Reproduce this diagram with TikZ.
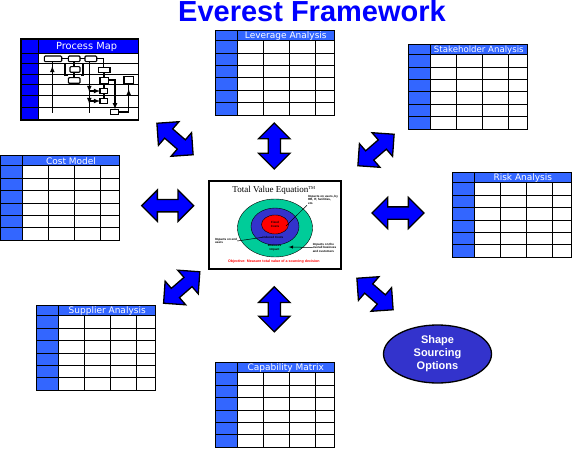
\documentclass[tikz,border=0pt]{standalone}
\usepackage{fontspec}
\setmainfont{Liberation Sans}
\newfontfamily\hdrfont{DejaVu Sans}
\newfontfamily\tvefont{Liberation Serif}
\usepackage{tikz}
\usetikzlibrary{shapes.arrows}
\usetikzlibrary{shapes.geometric}

\definecolor{tblblue}{HTML}{3366FF}
\definecolor{pureblue}{HTML}{0000FF}
\definecolor{ovalblue}{HTML}{3333CC}
\definecolor{tealgreen}{HTML}{00CC99}

\begin{document}
\begin{tikzpicture}[
            x=1pt, y=-1pt,
            grid line/.style={line width=1pt},
            pm line/.style={line width=1.1pt},
            head text/.style={text=white, font=\hdrfont\fontsize{9}{9}\selectfont, inner sep=0pt},
            dbl arrow/.style={double arrow, draw=black, fill=pureblue, line width=1.3pt, inner xsep=0pt, inner ysep=5.5pt,
                minimum width=30pt, double arrow head extend=9.5pt, minimum height=48pt},
            tiny text/.style={font=\bfseries\fontsize{3}{3.5}\selectfont, align=left, inner sep=0pt},
            ]
            \useasboundingbox (0,0) rectangle (572,449);

            \def\tbl#1#2#3#4{
                \begin{scope}[shift={(#1,#2)}]
                    \fill[white] (0,0) rectangle (119,85);
                    \fill[tblblue] (0,0) rectangle (22,85);
                    \fill[tblblue] (0,0) rectangle (119,10.5);
                    \draw[grid line] (22,0) -- (22,85);
                    \draw[grid line] (48,10.5) -- (48,85) (74,10.5) -- (74,85) (100,10.5) -- (100,85);
                    \draw[grid line] (0,10.5) -- (119,10.5) (0,22.9) -- (119,22.9) (0,35.3) -- (119,35.3);
                    \draw[grid line] (0,47.7) -- (119,47.7) (0,60.1) -- (119,60.1) (0,72.5) -- (119,72.5);
                    \draw[grid line] (0,0) rectangle (119,85);
                    \node[head text] (#3) at (70.5,5.5) {#4};
                \end{scope}
            }

            \node[font=\bfseries\fontsize{29}{30}\selectfont, text=pureblue, anchor=base, inner sep=0pt] (title) at (312,21.7) {Everest Framework};

            \tbl{215.3}{30.3}{lev}{Leverage Analysis}
            \tbl{408.3}{44.3}{stake}{\fontsize{8.6}{9}\selectfont Stakeholder Analysis}
            \tbl{0.5}{155.3}{cost}{Cost Model}
            \tbl{452.3}{172.3}{risk}{Risk Analysis}
            \tbl{36.7}{305.3}{supp}{Supplier Analysis}
            \tbl{215.3}{362.3}{cap}{Capability Matrix}

            \fill[white] (21,39) rectangle (138.3,120);
            \fill[pureblue] (21,39) rectangle (38.3,120);
            \fill[pureblue] (21,39) rectangle (138.3,54);
            \draw[grid line] (38.3,39) -- (38.3,120);
            \draw[grid line] (21,54) -- (138.3,54) (21,64) -- (138.3,64) (21,74.3) -- (138.3,74.3);
            \draw[grid line] (21,85) -- (138.3,85) (21,96) -- (138.3,96) (21,107.3) -- (138.3,107.3);
            \draw[line width=1.3pt] (21,39) rectangle (138.3,120);
            \node[head text, font=\hdrfont\fontsize{9.8}{10}\selectfont] (pmap) at (86.5,46.5) {Process Map};

            \draw[pm line, fill=white, rounded corners=1pt] (44.3,56) rectangle (61.7,61.7);
            \draw[pm line, fill=white, rounded corners=1pt] (68.3,56) rectangle (80,61.7);
            \draw[pm line, fill=white, rounded corners=1pt] (85,56) rectangle (96.7,61.7);
            \draw[pm line, fill=white, rounded corners=1pt] (70,66.7) rectangle (80,72.3);
            \draw[pm line, fill=white, rounded corners=1pt] (68.3,77.7) rectangle (80,83.3);
            \draw[pm line, fill=white] (98.3,67.7) rectangle (110,72.7);
            \draw[pm line, fill=white] (100,77.7) rectangle (108.3,83.3);
            \draw[pm line, fill=white] (124,76.7) rectangle (133.3,83.3);
            \draw[pm line, fill=white] (100,88.3) rectangle (107.3,93.3);
            \draw[pm line, fill=white] (100,98.3) rectangle (107.3,103.3);
            \draw[pm line, fill=white] (110.7,109.3) rectangle (118.3,114.3);
            \draw[pm line] (61.7,58.5) -- (68.3,58.5) (80,58.5) -- (85,58.5);
            \draw[pm line] (96.7,58.5) -- (103.3,58.5) -- (103.3,67.7);
            \draw[pm line] (74,61.7) -- (74,66.7) (74,72.3) -- (74,77.7);
            \draw[pm line] (68,63.5) -- (65,63.5) -- (65,75) -- (68,75);
            \draw[pm line] (80.5,63.5) -- (83,63.5) -- (83,75) -- (80.5,75);
            \draw[pm line] (104,72.7) -- (104,77.7) (104,83.3) -- (104,88.3) (104,93.3) -- (104,98.3);
            \draw[pm line] (52.3,61.7) -- (52.3,112.7);
            \draw[pm line, -latex] (52.3,76) -- (52.3,66);
            \draw[pm line] (89.3,61.7) -- (89.3,113);
            \draw[pm line, -latex] (89.3,84) -- (89.3,92);
            \draw[pm line, -latex] (89.3,95) -- (89.3,104);
            \draw[pm line, -latex] (89.3,91) -- (100,91);
            \draw[pm line, -latex] (89.3,101) -- (100,101);
            \draw[pm line, -latex] (108.3,80) -- (115,80) -- (115,109.3);
            \draw[pm line] (118.3,112) -- (128.7,112) -- (128.7,83.3);
            \draw[pm line, -latex] (128.7,100) -- (128.7,89);

            \node[draw, line width=1.8pt, fill=white, minimum width=132pt, minimum height=88pt, inner sep=0pt] (tve) at (274.7,225.3) {};
            \node[font=\tvefont\fontsize{9}{9}\selectfont, inner sep=0pt] (tvetitle) at (274,190.5) {Total Value Equation\textsuperscript{\fontsize{4.5}{5}\selectfont TM}};
            \node[ellipse, draw, fill=tealgreen, minimum width=75pt, minimum height=58pt, inner sep=0pt] (impact) at (275,228) {};
            \node[ellipse, draw, fill=ovalblue, minimum width=48pt, minimum height=37pt, inner sep=0pt] (induced) at (275,226.5) {};
            \node[ellipse, draw, fill=red, minimum width=27pt, minimum height=19pt, inner sep=0pt, tiny text, align=center] (fixed) at (275,224.5) {Fixed\\Costs};
            \node[tiny text] (inducedlbl) at (273,237.3) {Induced Costs};
            \node[tiny text, align=center] (impactlbl) at (274.5,247.5) {Business\\Impact};
            \node[tiny text] (upperlbl) at (323,199.5) {Impacts on users, by\\HR, IT, facilities,\\etc.};
            \node[tiny text] (leftlbl) at (226,241) {Impacts on end\\users};
            \node[tiny text] (lowerlbl) at (324.5,247.5) {Impacts on the\\overall business\\and customers};
            \node[font=\bfseries\fontsize{3.6}{4}\selectfont, text=red, inner sep=0pt] (objective) at (273.8,261.3) {Objective: Measure total value of a sourcing decision};
            \coordinate (upperend) at (286,226);
            \coordinate (leftend) at (262.7,237.3);
            \coordinate (lowerend) at (288.7,247);
            \draw[line width=0.5pt] (upperlbl.south west) ++(-1,1) -- (upperend);
            \draw[line width=0.5pt] (leftlbl.east) -- (leftend);
            \draw[line width=0.5pt, -latex] (lowerlbl.west) -- (lowerend);

            \node[dbl arrow, rotate=90, minimum height=46pt] (aN) at (274.3,146) {};
            \node[dbl arrow, rotate=90, minimum height=45pt] (aS) at (274.3,309.3) {};
            \node[dbl arrow, minimum height=52pt] (aW) at (167.7,205.7) {};
            \node[dbl arrow, minimum height=52pt] (aE) at (398,213) {};
            \node[dbl arrow, rotate=-41] (aNW) at (175,139) {};
            \node[dbl arrow, rotate=41] (aNE) at (376,150) {};
            \node[dbl arrow, rotate=41] (aSW) at (181.7,287.5) {};
            \node[dbl arrow, rotate=-41] (aSE) at (375,294) {};

            \node[ellipse, draw, line width=1.3pt, fill=ovalblue, minimum width=108pt, minimum height=58pt,
                inner sep=0pt, text=white, font=\bfseries\fontsize{11}{13}\selectfont, align=center] (shape) at (437.5,354) {Shape\\Sourcing\\Options};
        \end{tikzpicture}
\end{document}
